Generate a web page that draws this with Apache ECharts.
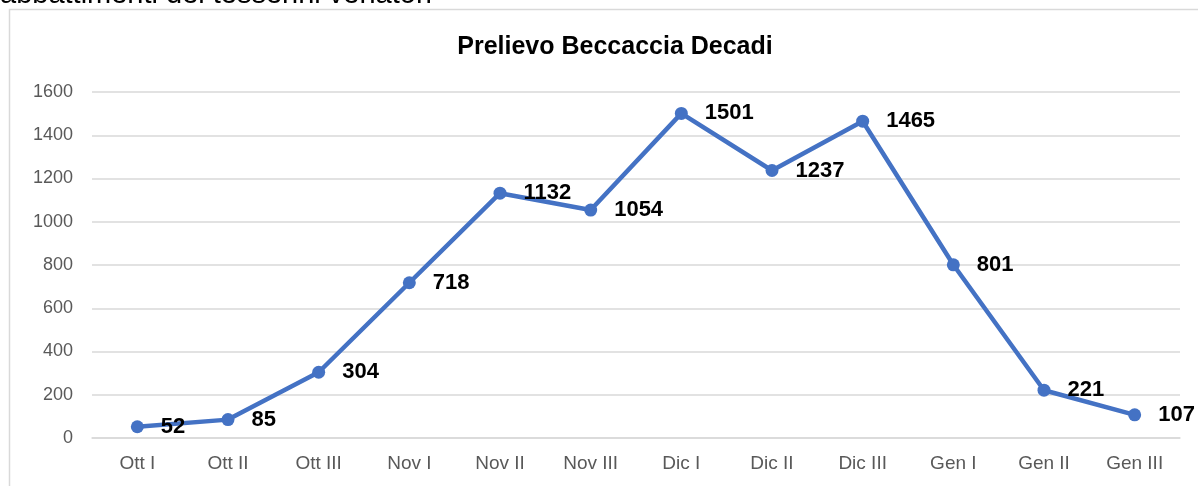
<!DOCTYPE html>
<html>
<head>
<meta charset="utf-8">
<script src="https://cdn.jsdelivr.net/npm/echarts@6/dist/echarts.min.js"></script>
<style>
  html, body { margin: 0; padding: 0; background: #fff; }
  #chart { width: 1198px; height: 486px; }
</style>
</head>
<body>
<div id="chart"></div>
<script>
// dati
var categories = ["Ott I", "Ott II", "Ott III", "Nov I", "Nov II", "Nov III", "Dic I", "Dic II", "Dic III", "Gen I", "Gen II", "Gen III"];
var prelievo = [52, 85, 304, 718, 1132, 1054, 1501, 1237, 1465, 801, 221, 107];
var yTicks = [0, 200, 400, 600, 800, 1000, 1200, 1400, 1600];

var font = "Liberation Sans, Arial, sans-serif";
var myChart = echarts.init(document.getElementById("chart"));
var option = {
  animation: false,
  textStyle: { fontFamily: font },
  title: {
    text: "Prelievo Beccaccia Decadi",
    left: 610,
    textAlign: "center",
    top: 30,
    textStyle: { fontSize: 25, fontWeight: "bold", color: "#000", fontFamily: font }
  },
  graphic: [
    {
      type: "text",
      x: 0,
      y: -20,
      style: {
        text: "abbattimenti dei tesserini venatori",
        fontSize: 29,
        fill: "#000",
        fontFamily: font,
        verticalAlign: "top"
      },
      silent: true
    },
    {
      type: "rect",
      shape: { x: 9.5, y: 9.5, width: 1300, height: 600 },
      style: { fill: "none", stroke: "#d9d9d9", lineWidth: 1.5 },
      silent: true
    }
  ],
  grid: { left: 92, right: 18, top: 92, bottom: 48 },
  xAxis: {
    type: "category",
    data: categories,
    boundaryGap: true,
    axisLine: { lineStyle: { color: "#d9d9d9", width: 1.5 } },
    axisTick: { show: false },
    axisLabel: { color: "#595959", fontSize: 19, margin: 16, fontFamily: font }
  },
  yAxis: {
    type: "value",
    min: yTicks[0],
    max: yTicks[yTicks.length - 1],
    interval: 200,
    axisLine: { show: false },
    axisTick: { show: false },
    splitLine: { lineStyle: { color: "#d9d9d9", width: 1.5 } },
    axisLabel: {
      color: "#595959",
      fontSize: 18,
      margin: 19,
      fontFamily: font,
      formatter: function (v) { return String(v); }
    }
  },
  series: [
    {
      type: "line",
      data: prelievo,
      symbol: "circle",
      symbolSize: 13,
      lineStyle: { color: "#4472c4", width: 4.5 },
      itemStyle: { color: "#4472c4" },
      label: {
        show: true,
        position: "right",
        distance: 17,
        color: "#000",
        fontSize: 22,
        fontWeight: "bold",
        fontFamily: font
      }
    }
  ]
};
myChart.setOption(option);
</script>
</body>
</html>
